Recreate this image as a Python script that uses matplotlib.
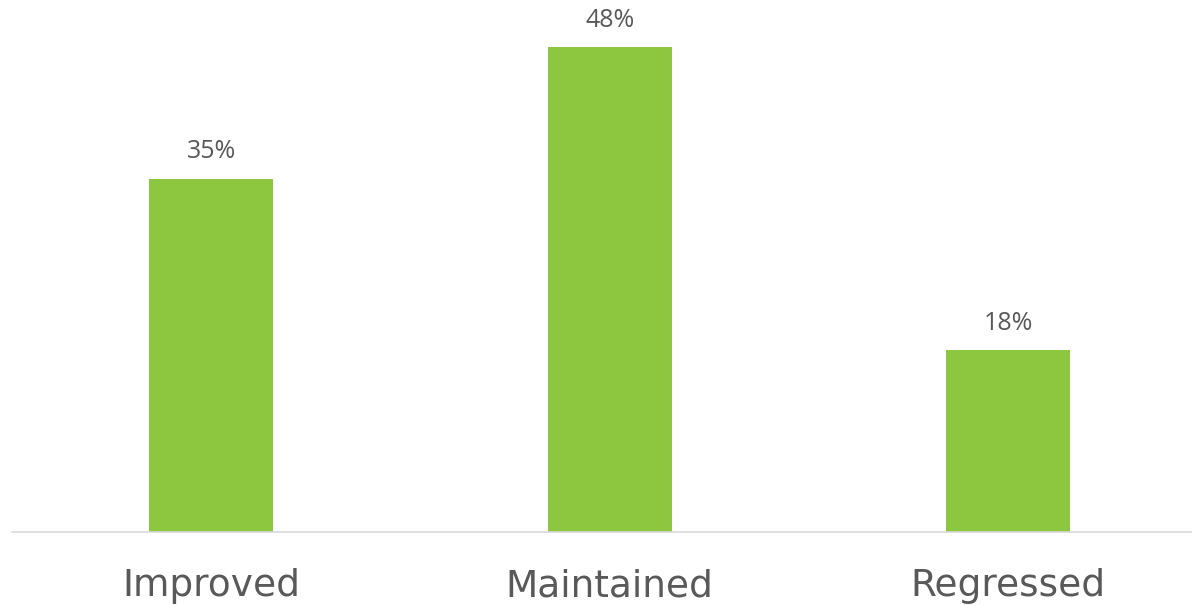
import matplotlib
matplotlib.use("Agg")
import matplotlib.pyplot as plt

categories = ["Improved", "Maintained", "Regressed"]
values = [35, 48, 18]
value_labels = ["35%", "48%", "18%"]

bar_color = "#8DC63F"
text_color = "#595959"

fig = plt.figure(figsize=(11.92, 6.06), dpi=100)
# axes placed in pixel terms: left 12px, baseline 74px from bottom
ax = fig.add_axes([12 / 1192, 74 / 606, 1180 / 1192, 532 / 606])

x = range(len(categories))
ax.bar(x, values, width=0.31, color=bar_color)

for xi, v, lab in zip(x, values, value_labels):
    ax.annotate(lab, (xi, v), xytext=(0, 14.5), textcoords="offset points",
                ha="center", va="baseline", fontsize=18, color=text_color,
                family="Open Sans")

ax.set_xlim(-0.5, -0.5 + 1180 / 398.5)
ax.set_ylim(0, 532 / 10.1)

ax.set_xticks(list(x))
ax.set_xticklabels(categories, fontsize=27, color=text_color, family="DejaVu Sans")
ax.tick_params(axis="x", length=0, pad=26)
ax.set_yticks([])

for side in ["top", "right", "left"]:
    ax.spines[side].set_visible(False)
ax.spines["bottom"].set_color("#D9D9D9")
ax.spines["bottom"].set_linewidth(1.2)

fig.savefig("out.png", dpi=100)
